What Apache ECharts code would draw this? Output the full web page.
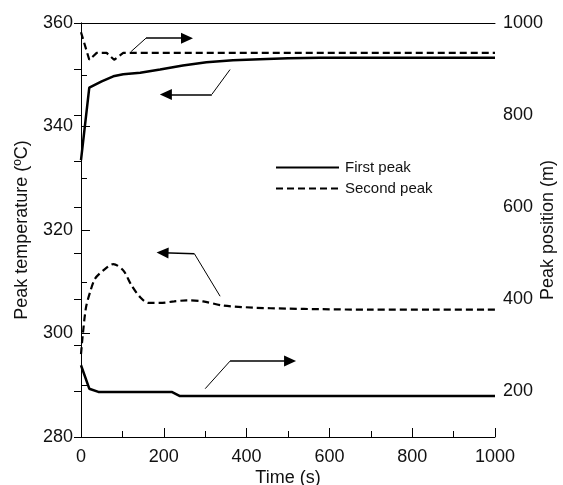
<!DOCTYPE html>
<html>
<head>
<meta charset="utf-8">
<script src="https://cdn.jsdelivr.net/npm/echarts@6/dist/echarts.min.js"></script>
<style>
  html, body { margin: 0; padding: 0; background: #fff; }
  #chart { width: 563px; height: 485px; }
</style>
</head>
<body>
<div id="chart"></div>
<script>
// peak temperature (left axis)
const tempFirstT = [0, 20, 50, 78, 102, 143, 191, 246, 303, 367, 432, 500, 577, 700, 850, 1000]
const tempFirstV = [333.5, 347.5, 348.7, 349.7, 350.1, 350.4, 351, 351.8, 352.4, 352.8, 353.0, 353.2, 353.3, 353.3, 353.3, 353.3]

const tempSecondT = [0, 4, 12, 22, 34, 54, 78, 102, 122, 143, 163, 191, 225, 255, 295, 343, 416, 500, 577, 700, 850, 1000]
const tempSecondV = [296, 299.5, 305, 308, 310.6, 312.2, 313.4, 312.2, 309.3, 307, 305.9, 305.9, 306.2, 306.4, 306.2, 305.4, 305, 304.8, 304.7, 304.6, 304.6, 304.6]

// peak position (right axis)
const posFirstT = [0, 20, 42, 219, 239, 1000]
const posFirstV = [256, 205, 198, 198, 189, 189]

const posSecondT = [0, 20, 38, 62, 80, 102, 1000]
const posSecondV = [980, 920, 935, 935, 920, 935, 935]

// annotation arrows: leader start, bend, arrow tip (data units)
const tempArrows = [
  [[360, 351], [316, 346.2], [205, 346.2]],
  [[336, 307.2], [274, 315.4], [197, 315.6]]
]
const posArrows = [
  [[121, 938], [157, 967], [256, 967]],
  [[300, 205], [360, 265], [505, 265]]
]

const zip = (xs, ys) => xs.map((x, i) => [x, ys[i]])

const arrowLines = (list) => {
  const out = []
  list.forEach(a => {
    out.push([
      { coord: a[0], symbol: 'none', lineStyle: { width: 1, color: '#000', type: 'solid' } },
      { coord: a[1], symbol: 'none' }
    ])
    out.push([
      { coord: a[1], symbol: 'none', lineStyle: { width: 1.5, color: '#000', type: 'solid' } },
      { coord: a[2], symbol: 'triangle', symbolSize: [11, 12] }
    ])
  })
  return out
}

const markLineOf = (list) => ({
  silent: true,
  animation: false,
  symbol: ['none', 'none'],
  label: { show: false },
  emphasis: { disabled: true },
  lineStyle: { color: '#000', width: 1, type: 'solid' },
  data: arrowLines(list)
})

const font = 'Liberation Sans, Arial, sans-serif'

const chart = echarts.init(document.getElementById('chart'))

const option = {
  animation: false,
  backgroundColor: '#fff',
  textStyle: { fontFamily: font },
  grid: { left: 81, right: 68, top: 23, bottom: 48, containLabel: false, outerBoundsMode: 'none' },
  legend: {
    data: ['First peak', 'Second peak'],
    orient: 'vertical',
    left: 270,
    top: 155,
    itemWidth: 63,
    itemHeight: 14,
    itemGap: 6,
    selectedMode: false,
    itemStyle: { opacity: 0 },
    textStyle: { fontSize: 15, color: '#111', fontFamily: font, padding: [0, 0, 0, 1] }
  },
  xAxis: [
    {
      type: 'value',
      min: 0,
      max: 1000,
      interval: 200,
      name: 'Time (s)',
      nameLocation: 'middle',
      nameGap: 32,
      nameMoveOverlap: false,
      nameTextStyle: { fontSize: 18, color: '#111', fontFamily: font },
      axisLine: { lineStyle: { color: '#000', width: 1 } },
      axisTick: { inside: true, length: 9, lineStyle: { color: '#000' } },
      minorTick: { show: true, splitNumber: 2, length: 6, lineStyle: { color: '#000' } },
      axisLabel: { fontSize: 18, color: '#111', margin: 11, formatter: v => String(v) },
      splitLine: { show: false }
    },
    {
      type: 'value',
      position: 'top',
      min: 0,
      max: 1000,
      axisLine: { show: true, lineStyle: { color: '#000', width: 1 } },
      axisTick: { show: false },
      axisLabel: { show: false },
      splitLine: { show: false }
    }
  ],
  yAxis: [
    {
      type: 'value',
      min: 280,
      max: 360,
      interval: 20,
      name: 'Peak temperature (ºC)',
      nameLocation: 'middle',
      nameGap: 50,
      nameMoveOverlap: false,
      nameTextStyle: { fontSize: 18, color: '#111', fontFamily: font },
      axisLine: { show: true, lineStyle: { color: '#666', width: 1 } },
      axisTick: { inside: true, length: 9, lineStyle: { color: '#000' } },
      minorTick: { show: true, splitNumber: 2, length: 6, lineStyle: { color: '#000' } },
      axisLabel: { fontSize: 18, color: '#111', margin: 8 },
      splitLine: { show: false }
    },
    {
      type: 'value',
      position: 'right',
      min: 100,
      max: 1000,
      interval: 100,
      name: 'Peak position (m)',
      nameLocation: 'middle',
      nameGap: 44,
      nameMoveOverlap: false,
      nameTextStyle: { fontSize: 18, color: '#111', fontFamily: font },
      axisLine: { show: true, lineStyle: { color: '#000', width: 1 } },
      axisTick: { inside: true, length: 7, lineStyle: { color: '#000' } },
      axisLabel: {
        fontSize: 18,
        color: '#111',
        margin: 8,
        formatter: v => (v % 200 === 0 ? String(v) : '')
      },
      splitLine: { show: false }
    }
  ],
  series: [
    {
      name: 'First peak',
      type: 'line',
      yAxisIndex: 0,
      data: zip(tempFirstT, tempFirstV),
      symbol: 'none',
      lineStyle: { color: '#000', width: 2.5, type: 'solid' },
      itemStyle: { color: '#000' },
      markLine: markLineOf(tempArrows)
    },
    {
      name: 'Second peak',
      type: 'line',
      yAxisIndex: 0,
      data: zip(tempSecondT, tempSecondV),
      symbol: 'none',
      smooth: 0.3,
      lineStyle: { color: '#000', width: 2.2, type: [7, 4] },
      itemStyle: { color: '#000' }
    },
    {
      name: 'First peak',
      type: 'line',
      yAxisIndex: 1,
      data: zip(posFirstT, posFirstV),
      symbol: 'none',
      lineStyle: { color: '#000', width: 2.5, type: 'solid' },
      itemStyle: { color: '#000' },
      markLine: markLineOf(posArrows)
    },
    {
      name: 'Second peak',
      type: 'line',
      yAxisIndex: 1,
      data: zip(posSecondT, posSecondV),
      symbol: 'none',
      lineStyle: { color: '#000', width: 2.2, type: [7, 4] },
      itemStyle: { color: '#000' }
    }
  ]
}

chart.setOption(option)
</script>
</body>
</html>
